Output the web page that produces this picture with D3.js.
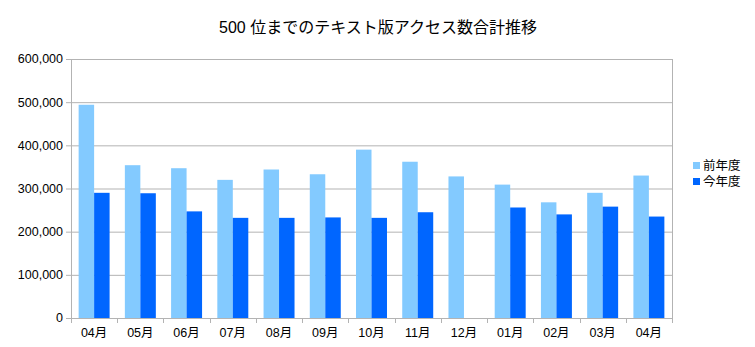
<!DOCTYPE html>
<html><head><meta charset="utf-8">
<script src="https://cdn.jsdelivr.net/npm/d3@7/dist/d3.min.js"></script>
<style>body{margin:0;background:#fff}svg{display:block}</style>
</head><body>
<svg id="c" width="755" height="347"></svg>
<script>
const categories = ["04月","05月","06月","07月","08月","09月","10月","11月","12月","01月","02月","03月","04月"];
const prevYear = [494000,354000,347000,320000,344000,333000,390000,362000,328000,309000,268000,290000,330000];
const thisYear = [290000,289000,247000,232000,232000,233000,232000,245000,null,256000,240000,258000,235000];
const seriesNames = ["前年度","今年度"];
const yTicks = [0,100000,200000,300000,400000,500000,600000];
const colors = ["#83caff","#0066ff"];

const svg = d3.select("#c");
const font = "'Liberation Sans','Noto Sans CJK JP',sans-serif";
const L=71, R=672, T=59, B=318;
const idx = categories.map((d,i)=>i);
const x = d3.scaleBand().domain(idx).range([L,R]).paddingInner(0.33).paddingOuter(0.165);
const x1 = d3.scaleBand().domain([0,1]).range([0,x.bandwidth()]);
const y = d3.scaleLinear().domain([0,600000]).range([B,T]);

// gridlines
svg.append("g").selectAll("line").data(yTicks).join("line")
  .attr("x1",L-5).attr("x2",R).attr("y1",d=>y(d)+0.5).attr("y2",d=>y(d)+0.5)
  .attr("stroke","#b3b3b3").attr("stroke-width",1);

// y labels
svg.append("g").selectAll("text").data(yTicks).join("text")
  .attr("x",L-8).attr("y",d=>y(d)).attr("dy","0.35em").attr("text-anchor","end")
  .attr("font-family",font).attr("font-size",12.5).attr("fill","#000")
  .text(d=>d3.format(",")(d));

// bars
const series=[prevYear,thisYear];
series.forEach((s,si)=>{
  svg.append("g").selectAll("rect").data(s.map((v,i)=>({v,i})).filter(d=>d.v!=null)).join("rect")
    .attr("x",d=>x(d.i)+x1(si)).attr("width",x1.bandwidth())
    .attr("y",d=>y(d.v)).attr("height",d=>B-y(d.v))
    .attr("fill",colors[si]);
});

// axes lines
svg.append("line").attr("x1",L+0.5).attr("x2",L+0.5).attr("y1",T).attr("y2",B+5).attr("stroke","#b3b3b3");
svg.append("line").attr("x1",R+0.5).attr("x2",R+0.5).attr("y1",T).attr("y2",B+5).attr("stroke","#b3b3b3");
// x ticks at boundaries
const step = x.step();
const bounds = d3.range(categories.length+1).map(i=>L+i*(R-L)/categories.length);
svg.append("g").selectAll("line").data(bounds).join("line")
  .attr("x1",d=>Math.round(d)+0.5).attr("x2",d=>Math.round(d)+0.5).attr("y1",B).attr("y2",B+5)
  .attr("stroke","#b3b3b3");

// x labels
svg.append("g").selectAll("text").data(idx).join("text")
  .attr("x",i=>x(i)+x.bandwidth()/2).attr("y",337).attr("text-anchor","middle")
  .attr("font-family",font).attr("font-size",12.5).attr("fill","#000")
  .text(i=>categories[i]);

// title
svg.append("text").attr("x",378).attr("y",33).attr("text-anchor","middle")
  .attr("font-family",font).attr("font-size",16).attr("fill","#000")
  .text("500 位までのテキスト版アクセス数合計推移");

// legend
const lg = svg.append("g");
seriesNames.forEach((n,i)=>{
  lg.append("rect").attr("x",693).attr("y",162+i*16).attr("width",7).attr("height",7).attr("fill",colors[i]);
  lg.append("text").attr("x",703).attr("y",166+i*16).attr("dy","0.35em")
    .attr("font-family",font).attr("font-size",12.5).attr("fill","#000").text(n);
});
</script>
</body></html>
